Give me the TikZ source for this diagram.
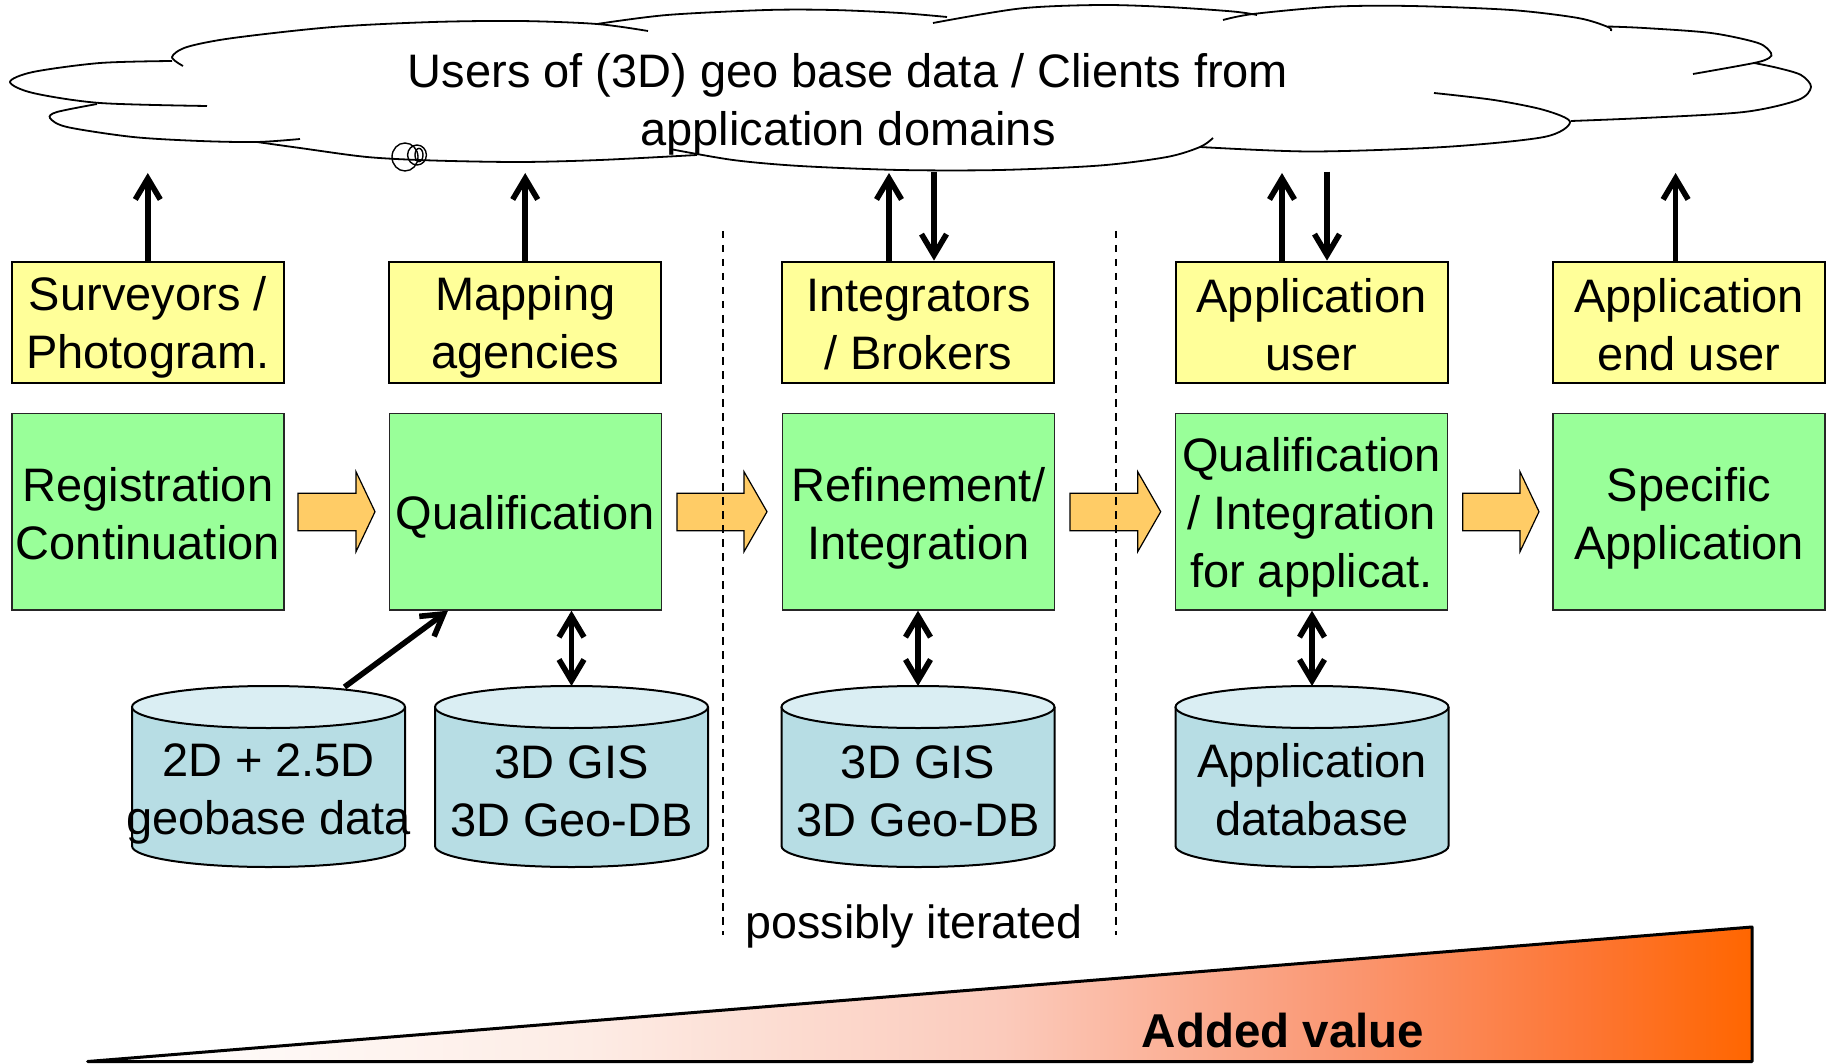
\documentclass[tikz,border=0pt]{standalone}
\usepackage{fontspec}
\setmainfont{Liberation Sans}
\usetikzlibrary{arrows.meta,calc}

\definecolor{actorfill}{HTML}{FFFF99}
\definecolor{stagefill}{HTML}{99FF99}
\definecolor{flowfill}{HTML}{FFCC66}
\definecolor{dbbody}{RGB}{183,221,228}
\definecolor{dbtop}{RGB}{218,238,243}
\definecolor{valA}{RGB}{253,236,229}
\definecolor{valB}{RGB}{251,202,187}
\definecolor{valC}{RGB}{250,152,116}
\definecolor{valD}{RGB}{253,118,52}
\definecolor{valE}{RGB}{255,102,0}

% white-to-orange ramp for the "added value" wedge (inner 25bp..75bp span the path)
\pgfdeclarehorizontalshading{addedvalue}{100bp}{%
  color(0bp)=(white); color(25bp)=(white); color(40bp)=(valA);
  color(52.5bp)=(valB); color(62.5bp)=(valC); color(70bp)=(valD);
  color(75bp)=(valE); color(100bp)=(valE)}

% database cylinder: #1 = name of the area node it is drawn around
\newcommand\dbcylinder[1]{%
  \path[fill=dbbody,draw=black,line width=1pt]
    ($(#1.center)+(-136.5,-69.5)$) -- ($(#1.center)+(-136.5,69.5)$)
    arc[start angle=180,end angle=360,x radius=68.25pt,y radius=10.5pt]
    -- ($(#1.center)+(136.5,-69.5)$);
  \draw[fill=dbtop,line width=1pt] ($(#1.center)+(0,-69.5)$)
    ellipse[x radius=68.25pt,y radius=10.5pt];}

% broad process arrow: #1 shaft start, #2 head base, #3 tip (x values)
\newcommand\stagearrow[3]{%
  \draw[fill=flowfill,draw=black,line width=0.6pt,line join=miter]
    (#1,493.3) -- (#2,493.3) -- (#2,471.7) -- (#3,511.7) -- (#2,551.7)
    -- (#2,530.7) -- (#1,530.7) -- cycle;}

\begin{document}
\begin{tikzpicture}[x=0.5pt,y=-0.5pt,
  txt/.style={font=\fontsize{23.5pt}{29pt}\selectfont,align=center},
  label/.style={txt,yshift=-2.6pt},
  flatlabel/.style={txt,yshift=-1pt},
  actor/.style={draw=black,line width=1pt,fill=actorfill,
    minimum width=136pt,minimum height=60.8pt,inner sep=0pt},
  stage/.style={draw=black!85,line width=0.7pt,fill=stagefill,
    minimum width=136pt,minimum height=98.3pt,inner sep=0pt},
  dbarea/.style={minimum width=136.5pt,minimum height=90.5pt,inner sep=0pt,outer sep=0pt},
  link/.style={line width=2.8pt,-{Straight Barb[length=10.5pt,width=12.5pt]}},
  duallink/.style={line width=2.8pt,{Straight Barb[length=10.5pt,width=12.5pt]}-{Straight Barb[length=10.5pt,width=12.5pt]}},
  lobe/.style={line width=0.9pt},
  phase/.style={line width=1pt,dash pattern=on 3.75pt off 3.25pt}]

\useasboundingbox (0,0) rectangle (1831,1064);

% ---------- cloud of users ----------
\draw[lobe] plot[smooth] coordinates {(183,66) (172,57) (187,47) (233,38) (333,27) (433,22) (520,21) (597,24) (648,31)};
\draw[lobe] plot[smooth] coordinates {(597,24) (667,15) (767,10) (833,10) (900,13) (947,17)};
\draw[lobe] plot[smooth] coordinates {(933,23) (1020,8.5) (1100,5) (1167,7) (1233,11.5) (1257,15)};
\draw[lobe] plot[smooth] coordinates {(1223,20) (1253,14) (1333,6.7) (1411,6) (1511,10) (1578,18) (1608,27) (1611,31)};
\draw[lobe] plot[smooth] coordinates {(1608,26.5) (1644,28) (1711,33) (1758,43) (1771,53) (1769,58) (1754,63) (1693,74)};
\draw[lobe] plot[smooth] coordinates {(1754,63) (1778,68) (1801,75) (1811,87) (1798,100) (1744,112) (1644,118) (1571,121)};
\draw[lobe] plot[smooth] coordinates {(1434,93) (1494,100) (1544,110) (1570,122) (1544,137) (1444,147) (1311,151.5) (1200,147)};
\draw[lobe] plot[smooth] coordinates {(1213,138) (1200,147) (1167,157) (1100,165.5) (1000,170) (900,170) (800,166) (733,160) (670,149)};
\draw[lobe] plot[smooth] coordinates {(697,155) (600,160) (520,162) (433,160.5) (367,157) (300,148) (257,142)};
\draw[lobe] plot[smooth] coordinates {(300,139) (257,142) (200,141) (133,137) (67,127) (50,118) (57,112) (97,104)};
\draw[lobe] plot[smooth] coordinates {(207,106) (100,103) (33,93) (10,82) (33,72) (100,63) (172,61)};
\draw[line width=0.7pt] (405,157) ellipse[x radius=6.5pt,y radius=7pt];
\draw[line width=0.7pt] (417,155) ellipse[x radius=4.7pt,y radius=5pt];
\draw[line width=0.7pt] (419,155) ellipse[x radius=2pt,y radius=3.3pt];
\node[txt,yshift=-2.4pt] (users) at (848,100) {Users of (3D) geo base data / Clients from\\application domains};

% ---------- actors ----------
\node[actor] (surv)    at (147.8,322.4) {};
\node[actor] (mapag)   at (525.2,322.4) {};
\node[actor] (integ)   at (918.4,322.4) {};
\node[actor] (appuser) at (1311.5,322.4) {};
\node[actor] (enduser) at (1689,322.4) {};
\node[label]     at (surv.center)    {Surveyors /\\Photogram.};
\node[label]     at (mapag.center)   {Mapping\\agencies};
\node[flatlabel] at (integ.center)   {Integrators\\/ Brokers};
\node[flatlabel] at (appuser.center) {Application\\user};
\node[flatlabel] at (enduser.center) {Application\\end user};

% ---------- process stages ----------
\node[stage] (regist)  at (147.8,511.7) {};
\node[stage] (qualif)  at (525.2,511.7) {};
\node[stage] (refine)  at (918.4,511.7) {};
\node[stage] (qualapp) at (1311.5,511.7) {};
\node[stage] (specapp) at (1689,511.7) {};
\node[flatlabel] at (regist.center)  {Registration\\Continuation};
\node[txt,yshift=-2.4pt] at (qualif.center)  {Qualification};
\node[txt,yshift=-3.5pt] at (refine.center)  {Refinement/\\Integration};
\node[txt,yshift=-3pt]   at (qualapp.center) {Qualification\\/ Integration\\for applicat.};
\node[txt,yshift=-3.5pt] at (specapp.center) {Specific\\Application};

\stagearrow{298}{356}{375}
\stagearrow{677}{744}{767}
\stagearrow{1070}{1137.7}{1160.7}
\stagearrow{1462.7}{1520}{1539}

% ---------- databases ----------
\node[dbarea] (db1) at (268.5,776.5) {};
\node[dbarea] (db2) at (571.5,776.5) {};
\node[dbarea] (db3) at (918,776.5) {};
\node[dbarea] (db4) at (1312,776.5) {};
\dbcylinder{db1}
\dbcylinder{db2}
\dbcylinder{db3}
\dbcylinder{db4}
\node[txt,yshift=-2.4pt] (db1txt) at (268.5,789) {2D + 2.5D\\geobase data};
\node[flatlabel] (db2txt) at (571.5,789) {3D GIS\\3D Geo-DB};
\node[flatlabel] (db3txt) at (918,789) {3D GIS\\3D Geo-DB};
\node[txt,yshift=-0.5pt] (db4txt) at (1312,789) {Application\\database};

% ---------- links to the clients ----------
\coordinate (u1) at (147.8,173);
\coordinate (u2) at (525.2,173);
\coordinate (u3) at (889,173);
\coordinate (d3) at (934,171.7);
\coordinate (u4) at (1282,173);
\coordinate (d4) at (1327,171.7);
\coordinate (u5) at (1675.6,173);
\draw[link] (surv.north) -- (u1);
\draw[link] (mapag.north) -- (u2);
\draw[link] (integ.north -| u3) -- (u3);
\draw[link] (d3) -- (integ.north -| d3);
\draw[link] (appuser.north -| u4) -- (u4);
\draw[link] (d4) -- (appuser.north -| d4);
\draw[link] (enduser.north -| u5) -- (u5);

% ---------- database access ----------
\draw[duallink] (qualif.south -| db2.north) -- (db2.north);
\draw[duallink] (refine.south -| db3.north) -- (db3.north);
\draw[duallink] (qualapp.south -| db4.north) -- (db4.north);
\draw[link] ($(db1.north)+(76,1)$) -- ($(qualif.south west)+(59.5,0)$);

% ---------- iteration bracket ----------
\draw[phase] (722.5,231) -- (722.5,935);
\draw[phase] (1116,231) -- (1116,935);
\node[font=\fontsize{23.3pt}{28pt}\selectfont,yshift=-2.4pt] (iter) at (914,922) {possibly iterated};

% ---------- added value wedge ----------
\shade[shading=addedvalue] (87.6,1061.5) -- (1752,1061.5) -- (1752,927) -- cycle;
\draw[line width=1.5pt,line join=round] (87.6,1061.5) -- (1752,1061.5) -- (1752,927) -- cycle;
\node[font=\fontsize{23.75pt}{29pt}\selectfont\bfseries] (value) at (1283,1031) {Added value};
\end{tikzpicture}
\end{document}
